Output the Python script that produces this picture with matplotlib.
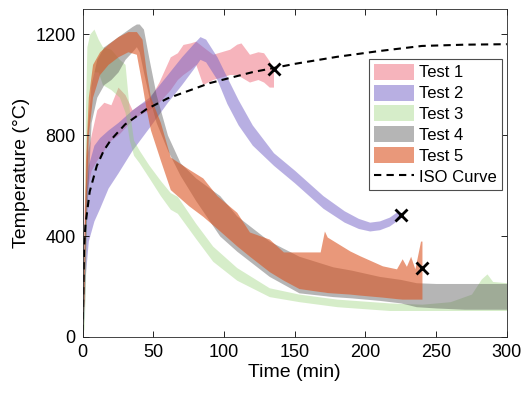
import matplotlib
matplotlib.use('Agg')
import matplotlib.pyplot as plt
from matplotlib.patches import Patch
from matplotlib.lines import Line2D

plt.rcParams['font.family'] = ['Liberation Sans', 'DejaVu Sans']

# Test 1 (pink band)
t1 = [0, 1, 3, 6, 10, 15, 20, 25, 30, 35, 40, 47, 54, 62, 67, 71, 76, 80, 85, 92, 98, 104, 109, 112, 118, 124, 128, 132, 135]
t1_lo = [20, 300, 580, 660, 700, 740, 780, 800, 830, 860, 880, 900, 930, 980, 1020, 1040, 1060, 1080, 1000, 1020, 1030, 1040, 1040, 1030, 1010, 1020, 1010, 990, 990]
t1_hi = [20, 500, 720, 800, 900, 930, 920, 990, 960, 900, 920, 940, 1010, 1110, 1126, 1159, 1165, 1172, 1150, 1120, 1130, 1140, 1160, 1165, 1120, 1130, 1126, 1094, 1060]

# Test 2 (purple band)
t2 = [0, 1, 2, 4, 8, 12, 18, 25, 35, 47, 60, 70, 78, 83, 87, 95, 102, 110, 120, 135, 150, 170, 185, 195, 203, 210, 217, 222, 225]
t2_lo = [20, 80, 250, 380, 460, 510, 590, 650, 740, 830, 930, 1000, 1060, 1100, 1090, 1020, 925, 840, 760, 680, 610, 510, 455, 430, 420, 425, 440, 460, 470]
t2_hi = [20, 300, 550, 680, 760, 790, 820, 850, 900, 950, 1040, 1110, 1160, 1190, 1180, 1110, 1030, 940, 840, 730, 660, 560, 500, 470, 455, 460, 475, 495, 495]

# Test 3 (green band)
t3 = [0, 1, 2, 3, 5, 8, 11, 14, 20, 26, 30, 33, 36, 40, 47, 55, 62, 67, 80, 92, 109, 132, 153, 180, 217, 240, 260, 275, 282, 286, 290, 300]
t3_lo = [20, 30, 200, 700, 950, 1050, 1050, 1000, 980, 950, 890, 780, 720, 690, 630, 560, 506, 490, 390, 300, 225, 160, 140, 120, 105, 105, 105, 105, 105, 105, 105, 105]
t3_hi = [20, 300, 900, 1150, 1200, 1220, 1180, 1150, 1140, 1100, 1080, 900, 780, 740, 680, 620, 572, 557, 450, 360, 275, 195, 170, 150, 135, 130, 140, 170, 230, 250, 220, 215]

# Test 4 (grey band)
t4 = [0, 1, 3, 6, 10, 15, 20, 25, 30, 35, 38, 40, 43, 47, 52, 60, 69, 80, 97, 109, 132, 153, 177, 190, 210, 225, 236, 250, 270, 300]
t4_lo = [20, 150, 500, 850, 950, 1000, 1020, 1050, 1100, 1130, 1150, 1130, 1050, 950, 850, 740, 640, 540, 400, 340, 240, 175, 160, 155, 145, 135, 120, 115, 110, 110]
t4_hi = [20, 400, 800, 1000, 1100, 1150, 1170, 1190, 1210, 1230, 1240, 1240, 1220, 1100, 960, 800, 690, 630, 560, 480, 380, 320, 278, 265, 240, 228, 215, 212, 212, 212]

# Test 5 (orange band)
t5 = [0, 1, 2, 4, 7, 12, 18, 25, 32, 38, 42, 45, 48, 55, 62, 75, 85, 95, 109, 118, 132, 142, 153, 168, 171, 173, 189, 196, 212, 222, 226, 229, 232, 235, 239, 240]
t5_lo = [20, 150, 450, 800, 950, 1040, 1080, 1110, 1130, 1120, 1000, 900, 820, 700, 584, 520, 478, 430, 361, 320, 259, 225, 192, 180, 178, 176, 170, 166, 158, 152, 150, 150, 150, 150, 150, 150]
t5_hi = [20, 350, 700, 950, 1080, 1130, 1160, 1190, 1210, 1210, 1180, 1050, 950, 850, 713, 665, 630, 560, 494, 416, 388, 337, 337, 337, 420, 396, 341, 322, 282, 270, 310, 280, 320, 270, 380, 380]

# ISO curve
iso_t = [0, 1, 2, 5, 10, 15, 20, 30, 45, 60, 90, 120, 150, 180, 210, 240, 270, 300]
iso_T = [20, 349, 445, 576, 678, 739, 781, 842, 902, 945, 1006, 1049, 1082, 1110, 1133, 1153, 1158, 1160]

# end of test markers
end_t = [135, 225, 240]
end_T = [1062, 482, 272]

labels = ['Test 1', 'Test 2', 'Test 3', 'Test 4', 'Test 5']
colors = [(0.93, 0.35, 0.42), (0.45, 0.38, 0.78), (0.55, 0.80, 0.40), (0.36, 0.36, 0.36), (0.86, 0.33, 0.13)]
alphas = [0.45, 0.5, 0.35, 0.45, 0.6]

fig = plt.figure(figsize=(5.23, 3.93), dpi=100)
ax = fig.add_axes([0.158, 0.1425, 0.811, 0.835])

bands = [(t1, t1_lo, t1_hi), (t2, t2_lo, t2_hi), (t3, t3_lo, t3_hi), (t4, t4_lo, t4_hi), (t5, t5_lo, t5_hi)]
for (t, lo, hi), c, a in zip(bands, colors, alphas):
    ax.fill_between(t, lo, hi, color=c, alpha=a, linewidth=0)

ax.plot(iso_t, iso_T, color='black', linestyle=(0, (3.5, 2.5)), linewidth=1.5)
ax.plot(end_t, end_T, linestyle='none', marker='x', color='black', markersize=8, markeredgewidth=2)

ax.set_xlim(0, 300)
ax.set_ylim(0, 1300)
ax.set_xticks([0, 50, 100, 150, 200, 250, 300])
ax.set_yticks([0, 400, 800, 1200])
ax.tick_params(direction='in', top=True, right=True, labelsize=13, length=4, width=0.6, pad=5)
for s in ax.spines.values():
    s.set_linewidth(0.6)
    s.set_color('0.15')
ax.set_xlabel('Time (min)', fontsize=14, labelpad=2)
ax.set_ylabel('Temperature (°C)', fontsize=14, labelpad=4)

handles = [Patch(facecolor=c, alpha=a, edgecolor='none') for c, a in zip(colors, alphas)]
handles.append(Line2D([], [], color='black', linestyle=(0, (3.5, 2.5)), linewidth=1.5))
leg = ax.legend(handles, labels + ['ISO Curve'], loc='upper right', bbox_to_anchor=(0.988, 0.848),
                fontsize=12, handlelength=2.4, handleheight=1.1, handletextpad=0.3,
                labelspacing=0.25, borderpad=0.3, borderaxespad=0, fancybox=False, framealpha=1)
leg.get_frame().set_edgecolor('0.3')
leg.get_frame().set_linewidth(0.8)

fig.savefig('out.png', dpi=100)
